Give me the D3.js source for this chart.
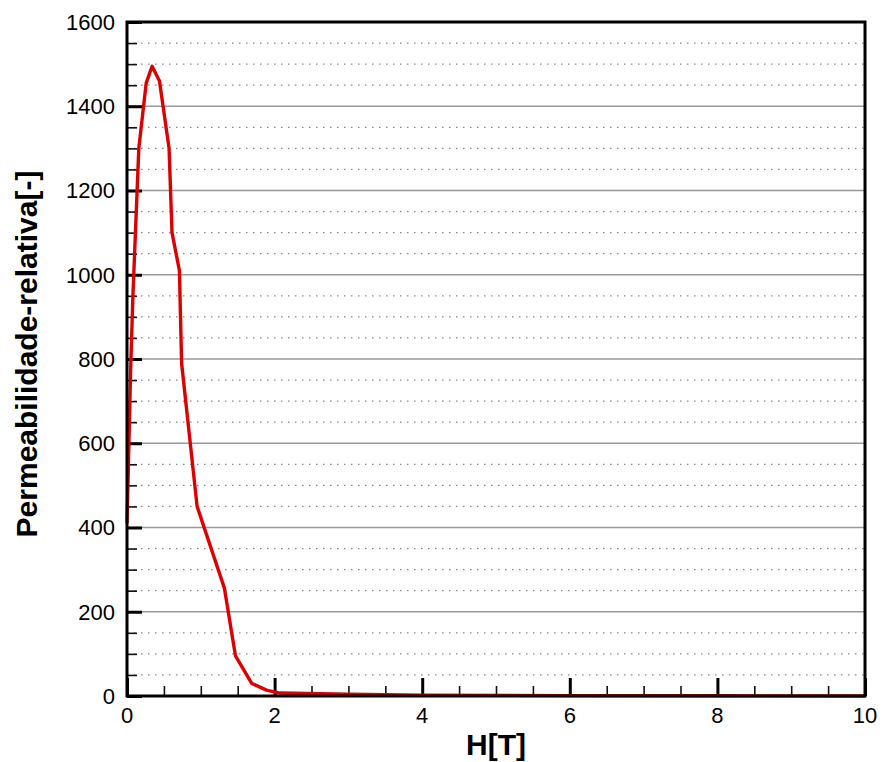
<!DOCTYPE html>
<html>
<head>
<meta charset="utf-8">
<script src="https://cdn.jsdelivr.net/npm/d3@7"></script>
<style>
  html, body { margin: 0; padding: 0; background: #fff; }
  svg { display: block; }
</style>
</head>
<body>
<svg id="chart" width="885" height="762"></svg>
<script>
// Relative permeability vs. field strength
const fieldH = [0, 0.05, 0.08, 0.16, 0.26, 0.34, 0.44, 0.57, 0.61, 0.71, 0.74, 0.95, 1.32, 1.47, 1.69, 1.89, 2.07, 3, 4, 6, 8, 10];
const permeability = [410, 780, 950, 1300, 1455, 1495, 1460, 1300, 1100, 1010, 790, 450, 256, 95, 30, 14, 7, 4, 2, 1, 0.5, 0];

const xTicks = [0, 2, 4, 6, 8, 10];
const yTicks = [0, 200, 400, 600, 800, 1000, 1200, 1400, 1600];
const xTitle = "H[T]";
const yTitle = "Permeabilidade-relativa[-]";

const svg = d3.select("#chart");
const plotL = 127, plotR = 865, plotT = 22, plotB = 696;

const x = d3.scaleLinear().domain([0, 10]).range([plotL, plotR]);
const y = d3.scaleLinear().domain([0, 1600]).range([plotB, plotT]);

// Minor (dotted) horizontal grid every 50
const minorY = d3.range(50, 1600, 50).filter(v => v % 200 !== 0);
svg.append("g").selectAll("line").data(minorY).join("line")
  .attr("x1", plotL).attr("x2", plotR)
  .attr("y1", d => y(d)).attr("y2", d => y(d))
  .attr("stroke", "#888").attr("stroke-width", 1.3)
  .attr("stroke-dasharray", "1.5,5.5");

// Major (solid) horizontal grid
svg.append("g").selectAll("line").data(yTicks.filter(v => v > 0 && v < 1600)).join("line")
  .attr("x1", plotL).attr("x2", plotR)
  .attr("y1", d => y(d)).attr("y2", d => y(d))
  .attr("stroke", "#999").attr("stroke-width", 1.3);

// Inward ticks on the left axis
const yAxisMajor = d3.axisRight(y).tickValues(yTicks).tickSize(15).tickFormat("");
const yAxisMinor = d3.axisRight(y).tickValues(minorY).tickSize(10).tickFormat("");
svg.append("g").attr("transform", `translate(${plotL},0)`).call(yAxisMinor)
  .call(g => g.select(".domain").remove())
  .selectAll("line").attr("stroke", "#111").attr("stroke-width", 1.6);
svg.append("g").attr("transform", `translate(${plotL},0)`).call(yAxisMajor)
  .call(g => g.select(".domain").remove())
  .selectAll("line").attr("stroke", "#000").attr("stroke-width", 3);

// Inward ticks on the bottom axis
const minorX = d3.range(0.5, 10, 0.5).filter(v => v % 2 !== 0);
const xAxisMajor = d3.axisTop(x).tickValues(xTicks).tickSize(18).tickFormat("");
const xAxisMinor = d3.axisTop(x).tickValues(minorX).tickSize(10).tickFormat("");
svg.append("g").attr("transform", `translate(0,${plotB})`).call(xAxisMinor)
  .call(g => g.select(".domain").remove())
  .selectAll("line").attr("stroke", "#111").attr("stroke-width", 1.6);
svg.append("g").attr("transform", `translate(0,${plotB})`).call(xAxisMajor)
  .call(g => g.select(".domain").remove())
  .selectAll("line").attr("stroke", "#000").attr("stroke-width", 3);

// Curve
const line = d3.line().x((d, i) => x(fieldH[i])).y(d => y(d));
svg.append("path").datum(permeability)
  .attr("d", line)
  .attr("fill", "none").attr("stroke", "#dd0000")
  .attr("stroke-width", 3.4).attr("stroke-linejoin", "round");

// Frame
svg.append("rect")
  .attr("x", plotL).attr("y", plotT)
  .attr("width", plotR - plotL).attr("height", plotB - plotT)
  .attr("fill", "none").attr("stroke", "#000").attr("stroke-width", 3);

// Tick labels
const font = "'Liberation Sans', Arial, sans-serif";
svg.append("g").selectAll("text").data(yTicks).join("text")
  .attr("x", plotL - 12).attr("y", d => y(d))
  .attr("dy", "0.36em").attr("text-anchor", "end")
  .attr("font-family", font).attr("font-size", 22)
  .text(d => d);
svg.append("g").selectAll("text").data(xTicks).join("text")
  .attr("x", d => x(d)).attr("y", plotB + 27)
  .attr("text-anchor", "middle")
  .attr("font-family", font).attr("font-size", 22)
  .text(d => d);

// Axis titles
svg.append("text")
  .attr("x", 496).attr("y", 755)
  .attr("text-anchor", "middle")
  .attr("font-family", font).attr("font-size", 30).attr("font-weight", "bold")
  .text(xTitle);
svg.append("text")
  .attr("transform", `translate(37,354) rotate(-90)`)
  .attr("text-anchor", "middle")
  .attr("font-family", font).attr("font-size", 30).attr("font-weight", "bold")
  .text(yTitle);
</script>
</body>
</html>
